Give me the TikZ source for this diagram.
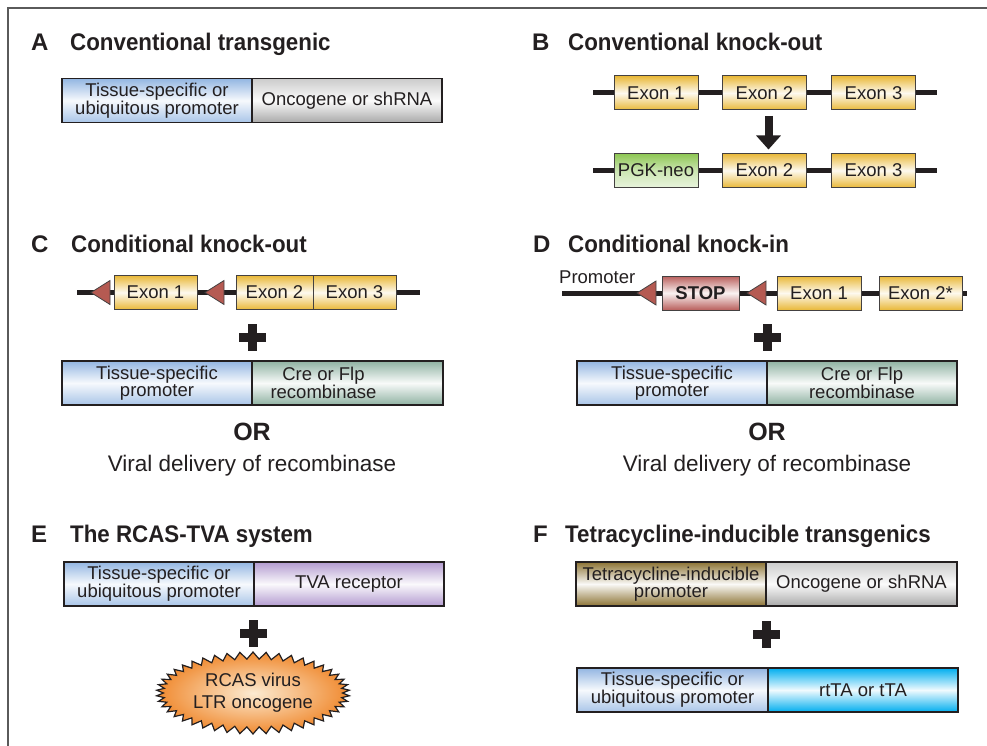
\documentclass[tikz,border=0pt]{standalone}
\usepackage{fontspec}
\setmainfont{Liberation Sans}
\newfontfamily\headfont[FakeStretch=0.93]{Liberation Sans}
\usepackage{tikz}
\usetikzlibrary{
  positioning, arrows.meta, shapes.symbols, backgrounds,
}
\definecolor{inkDark}   {HTML}{231F20}
\definecolor{frameGrey} {HTML}{5A5A5A}
\definecolor{promBlue}  {HTML}{93B6E2}
\definecolor{oncoGrey}  {HTML}{A9A9A9}
\definecolor{exonGold}  {HTML}{E9B838}
\definecolor{neoGreen}  {HTML}{8DC653}
\definecolor{stopRed}   {HTML}{B95F5C}
\definecolor{loxRed}    {HTML}{B55A52}
\definecolor{creSage}   {HTML}{8FB2A2}
\definecolor{tvaPurple} {HTML}{B39BD0}
\definecolor{tetBrown}  {HTML}{8C7334}
\definecolor{rttaCyan}  {HTML}{00AEEF}
\definecolor{rcasOrange}{HTML}{F08A30}
\definecolor{rcasCream} {HTML}{FCEBD2}

\tikzset{
  bodytext/.style={font=\fontsize{18.5}{15}\selectfont, text=inkDark},
  headletter/.style={anchor=base west, inner sep=0pt, text=inkDark,
    font=\fontsize{24}{28}\selectfont\bfseries},
  headtitle/.style={anchor=base west, inner sep=0pt, text=inkDark,
    font=\headfont\fontsize{24}{28}\selectfont\bfseries},
  part/.style={draw=inkDark, line width=1.3pt, outer sep=0pt, inner xsep=2pt,
    inner ysep=0pt, minimum height=44pt, minimum width=190pt, align=center, bodytext},
  promo/.style={part, top color=promBlue, bottom color=promBlue!80, middle color=promBlue!8},
  onco/.style={part, top color=oncoGrey!60, bottom color=oncoGrey, middle color=oncoGrey!5},
  recomb/.style={part, minimum width=191pt, top color=creSage, bottom color=creSage, middle color=creSage!6},
  tva/.style={part, top color=tvaPurple, bottom color=tvaPurple, middle color=tvaPurple!6},
  tetprom/.style={part, top color=tetBrown, bottom color=tetBrown, middle color=tetBrown!4},
  rtta/.style={part, top color=rttaCyan, bottom color=rttaCyan, middle color=rttaCyan!6},
  gene/.style={draw=inkDark!85, line width=1pt, outer sep=0pt, inner sep=0pt,
    minimum width=84pt, minimum height=34pt, bodytext},
  exon/.style={gene, top color=exonGold, bottom color=exonGold, middle color=exonGold!8},
  neo/.style={gene, top color=neoGreen, bottom color=neoGreen!20, middle color=neoGreen!45},
  stopbox/.style={gene, minimum width=77pt, top color=stopRed, bottom color=stopRed,
    middle color=stopRed!8, font=\fontsize{18.5}{15}\selectfont\bfseries},
  dna/.style={line width=5pt, inkDark},
  koarrow/.style={-{Triangle[width=24pt,length=14pt]}, line width=8pt, inkDark,
    shorten <=6pt, shorten >=4pt},
  orword/.style={inner sep=0pt, text=inkDark, font=\fontsize{25}{28}\selectfont\bfseries},
  viral/.style={anchor=base, inner sep=0pt, text=inkDark, font=\fontsize{22.5}{26}\selectfont},
  rcas/.style={starburst, random starburst=0, starburst points=46,
    starburst point height=7pt, minimum width=170pt, minimum height=82pt,
    draw=inkDark, line width=1.2pt, inner color=rcasCream, outer color=rcasOrange,
    align=center, text=inkDark, font=\fontsize{18.5}{22}\selectfont},
  lox/.pic={\filldraw[fill=loxRed, draw=inkDark!85, line width=0.8pt]
    (0,0) -- (19,-12) -- (19,12) -- cycle;},
  plus/.pic={\fill[inkDark] (-13.5,-4.5) rectangle (13.5,4.5);
    \fill[inkDark] (-4.5,-13.5) rectangle (4.5,13.5);},
}

\begin{document}
\begin{tikzpicture}[x=1pt, y=-1pt]
  \useasboundingbox (0,0) rectangle (987,746);
  \draw[frameGrey, line width=2pt] (8,746) -- (8,8) -- (987,8);

  % A
  \node[headletter] (letA) at (31,51) {A};
  \node[headtitle] (ttlA) at (70,51) {Conventional transgenic};
  \node[promo] (promA) at (157,100.5) {Tissue-specific or\\ubiquitous promoter};
  \node[onco, right=0pt of promA] (oncoA) {Oncogene or shRNA};

  % B
  \node[headletter] (letB) at (532,51) {B};
  \node[headtitle] (ttlB) at (568,51) {Conventional knock-out};
  \coordinate (b1L) at (593,93);
  \coordinate (b1R) at (937,93);
  \node[exon] (ex1B) at (656,93) {Exon 1};
  \node[exon] (ex2B) at (764.5,93) {Exon 2};
  \node[exon] (ex3B) at (873.5,93) {Exon 3};
  \coordinate (b2L) at (593,170.5);
  \coordinate (b2R) at (937,170.5);
  \node[neo] (neoB) at (656,170.5) {PGK-neo};
  \node[exon] (ex2Bko) at (764.5,170.5) {Exon 2};
  \node[exon] (ex3Bko) at (873.5,170.5) {Exon 3};
  \draw[koarrow] ([xshift=4pt]ex2B.south) -- ([xshift=4pt]ex2Bko.north);

  % C
  \node[headletter] (letC) at (31,252) {C};
  \node[headtitle] (ttlC) at (71,252) {Conditional knock-out};
  \coordinate (cL) at (77,292.5);
  \coordinate (cR) at (420,292.5);
  \node[exon, minimum width=83pt] (ex1C) at (155.5,292.5) {Exon 1};
  \node[exon, minimum width=77pt] (ex2C) at (274.5,292.5) {Exon 2};
  \node[exon, minimum width=83pt, right=0pt of ex2C] (ex3C) {Exon 3};
  \pic at (91,292.5) {lox};
  \pic at (205,292.5) {lox};
  \pic at (252,337) {plus};
  \node[promo] (promC) at (157,383) {Tissue-specific\\promoter};
  \node[recomb, right=0pt of promC,
    label={[bodytext, align=center, xshift=-24pt]center:Cre or Flp\\recombinase}] (creC) {};
  \node[orword] (orC) at (252,432) {OR};
  \node[viral] (viralC) at (252,471) {Viral delivery of recombinase};

  % D
  \node[headletter] (letD) at (533,252) {D};
  \node[headtitle] (ttlD) at (568,252) {Conditional knock-in};
  \node[bodytext, anchor=base west, inner sep=0pt] (promLblD) at (559,283) {Promoter};
  \coordinate (dL) at (562,293);
  \coordinate (dR) at (967,293);
  \node[stopbox] (stopD) at (700.5,293) {STOP};
  \node[exon] (ex1D) at (819,293) {Exon 1};
  \node[exon, minimum width=83pt] (ex2D) at (920.5,293) {Exon 2*};
  \pic at (637,293) {lox};
  \pic at (747,293) {lox};
  \pic at (767,337) {plus};
  \node[promo] (promD) at (672,383) {Tissue-specific\\promoter};
  \node[recomb, minimum width=190pt, right=0pt of promD] (creD) {Cre or Flp\\recombinase};
  \node[orword] (orD) at (767,432) {OR};
  \node[viral] (viralD) at (767,471) {Viral delivery of recombinase};

  % E
  \node[headletter] (letE) at (31,542) {E};
  \node[headtitle] (ttlE) at (70,542) {The RCAS-TVA system};
  \node[promo] (promE) at (159,584) {Tissue-specific or\\ubiquitous promoter};
  \node[tva, right=0pt of promE] (tvaE) {TVA receptor};
  \pic at (253,633) {plus};
  \node[rcas] (rcasE) at (253,693) {RCAS virus\\LTR oncogene};

  % F
  \node[headletter] (letF) at (533,542) {F};
  \node[headtitle] (ttlF) at (565,542) {Tetracycline-inducible transgenics};
  \node[tetprom] (tetF) at (671,584) {Tetracycline-inducible\\promoter};
  \node[onco, minimum width=191pt, right=0pt of tetF] (oncoF) {Oncogene or shRNA};
  \pic at (766,634) {plus};
  \node[promo, minimum width=191pt] (promF) at (672.5,690) {Tissue-specific or\\ubiquitous promoter};
  \node[rtta, right=0pt of promF] (rttaF) {rtTA or tTA};

  % DNA backbones
  \begin{scope}[on background layer]
    \draw[dna] (b1L) -- (b1R);
    \draw[dna] (b2L) -- (b2R);
    \draw[dna] (cL) -- (cR);
    \draw[dna] (dL) -- (dR);
  \end{scope}
\end{tikzpicture}
\end{document}
